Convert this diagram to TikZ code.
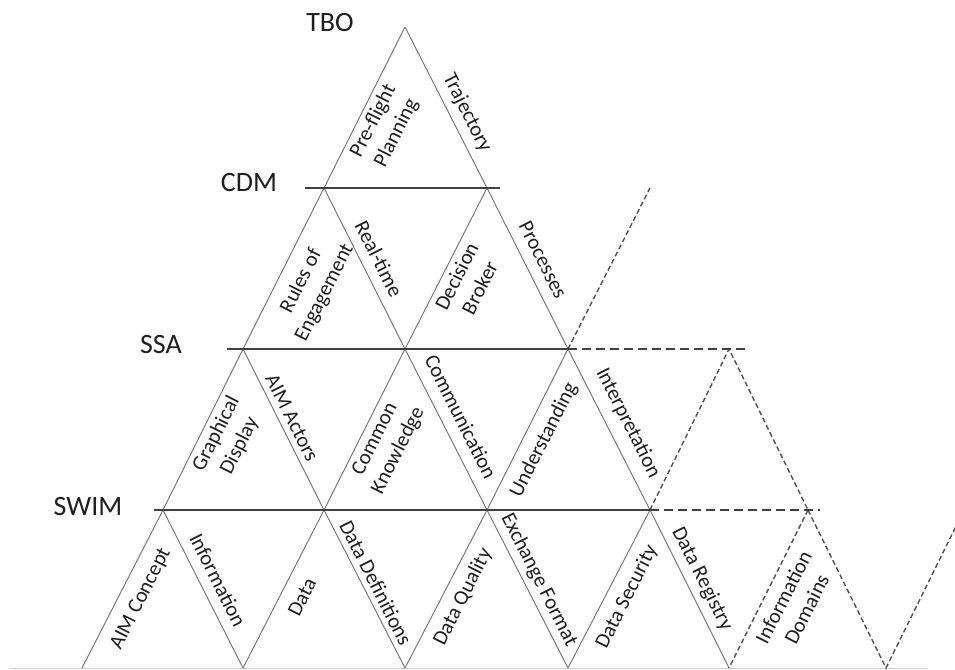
\documentclass[tikz,border=0pt]{standalone}
\usepackage{fontspec}
\setmainfont{Carlito}
\definecolor{ink}{HTML}{1E1E1E}
\definecolor{tierline}{HTML}{404040}
\definecolor{edgegray}{HTML}{6E6E6E}
\definecolor{dashgray}{HTML}{505050}
\definecolor{baseline}{HTML}{CFCFCF}
\newcommand\lblfont{\fontsize{21}{26}\selectfont}
\newcommand\tierfont{\fontsize{28}{30}\selectfont}
\begin{document}
\begin{tikzpicture}[x=1pt,y=-1pt,
  tier/.style={draw=tierline, line width=2pt},
  tierdash/.style={draw=tierline, line width=2pt, dash pattern=on 9pt off 5pt},
  edge/.style={draw=edgegray, line width=0.9pt},
  edgedash/.style={draw=dashgray, line width=1.4pt, dash pattern=on 5pt off 3pt},
  uplabel/.style={rotate=63.2, font=\lblfont, inner sep=0pt, align=center, text=ink},
  downlabel/.style={rotate=-63.2, font=\lblfont, inner sep=0pt, align=center, text=ink},
  tiername/.style={font=\tierfont, text=ink, inner sep=0pt}]
\path[use as bounding box] (0,0) rectangle (955,669);

% lattice vertices, row by row
\coordinate (a0) at (405,27);
\coordinate (b0) at (324,188);  \coordinate (b1) at (487,188);
\coordinate (c0) at (243,349);  \coordinate (c1) at (405,349);  \coordinate (c2) at (568,349);
\coordinate (d0) at (163,510);  \coordinate (d1) at (324,510);  \coordinate (d2) at (487,510);  \coordinate (d3) at (650,510);
\coordinate (e0) at (82,668);   \coordinate (e1) at (243,668);  \coordinate (e2) at (405,668);  \coordinate (e3) at (568,668);  \coordinate (e4) at (729,668);

% open (dashed) extension on the right
\coordinate (xtop) at (650,188);
\coordinate (xc) at (729,349);
\coordinate (xd) at (808,510);
\coordinate (xe) at (886,668);
\coordinate (xend) at (962,514);

% tier line end points
\coordinate (cdmL) at (305,188); \coordinate (cdmR) at (500,188);
\coordinate (ssaL) at (227,349); \coordinate (ssaR) at (748,349);
\coordinate (swimL) at (154,510); \coordinate (swimR) at (820,510);
\coordinate (baseL) at (10,668); \coordinate (baseR) at (928,668);

% ground line
\draw[draw=baseline, line width=1pt] (baseL) -- (baseR);

% solid triangle edges
\draw[edge] (a0) -- (b0) (a0) -- (b1);
\draw[edge] (b0) -- (c0) (b0) -- (c1) (b1) -- (c1) (b1) -- (c2);
\draw[edge] (c0) -- (d0) (c0) -- (d1) (c1) -- (d1) (c1) -- (d2) (c2) -- (d2) (c2) -- (d3);
\draw[edge] (d0) -- (e0) (d0) -- (e1) (d1) -- (e1) (d1) -- (e2) (d2) -- (e2) (d2) -- (e3) (d3) -- (e3) (d3) -- (e4);

% dashed edges
\draw[edgedash] (c2) -- (xtop);
\draw[edgedash] (d3) -- (xc) -- (xd);
\draw[edgedash] (xd) -- (e4);
\draw[edgedash] (xd) -- (xe) -- (xend);

% tier lines
\draw[tier] (cdmL) -- (cdmR);
\draw[tier] (ssaL) -- (c2);
\draw[tierdash] (c2) -- (ssaR);
\draw[tier] (swimL) -- (d3);
\draw[tierdash] (d3) -- (swimR);

% tier names
\node[tiername] (tbo) at (330,23) {TBO};
\node[tiername] (cdm) at (249,183) {CDM};
\node[tiername] (ssa) at (161,345) {SSA};
\node[tiername] (swim) at (88,507) {SWIM};

% TBO row
\node[uplabel] (l1) at (385,127) {Pre-flight\\Planning};
\node[downlabel] (l2) at (467,113) {Trajectory};
% CDM row
\node[uplabel] (l3) at (313,287) {Rules of\\Engagement};
\node[downlabel] (l4) at (379,259) {Real-time};
\node[uplabel] (l5) at (468,282) {Decision\\Broker};
\node[downlabel] (l6) at (543,260) {Processes};
% SSA row
\node[uplabel] (l7) at (228,440) {Graphical\\Display};
\node[downlabel] (l8) at (292,418) {AIM Actors};
\node[uplabel] (l9) at (387,445) {Common\\Knowledge};
\node[downlabel] (l10) at (461,417) {Communication};
\node[uplabel] (l11) at (544,440) {Understanding};
\node[downlabel] (l12) at (628,423) {Interpretation};
% SWIM row
\node[uplabel] (l13) at (141,599) {AIM Concept};
\node[downlabel] (l14) at (218,580) {Information};
\node[uplabel] (l15) at (302,597) {Data};
\node[downlabel] (l16) at (376,583) {Data Definitions};
\node[uplabel] (l17) at (463,597) {Data Quality};
\node[downlabel] (l18) at (539,580) {Exchange Format};
\node[uplabel] (l19) at (627,597) {Data Security};
\node[downlabel] (l20) at (702,579) {Data Registry};
\node[uplabel] (l21) at (795,603) {Information\\Domains};
\end{tikzpicture}
\end{document}
